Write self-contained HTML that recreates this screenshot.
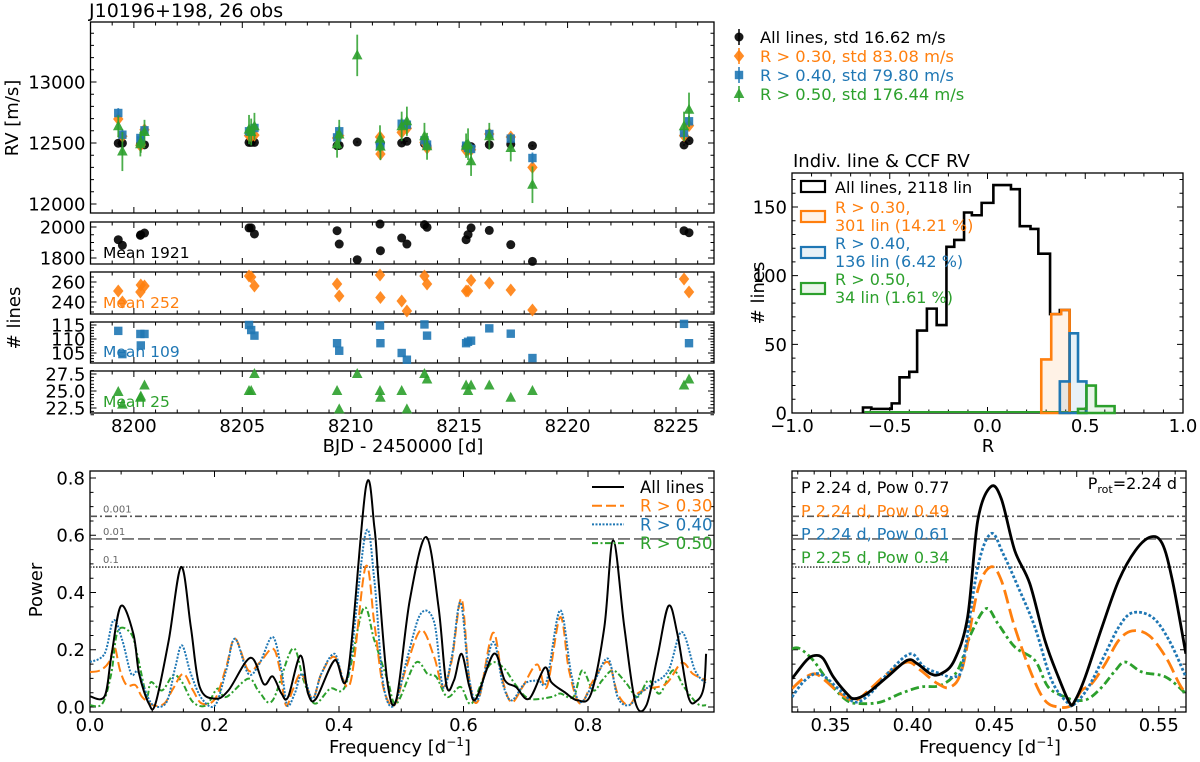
<!DOCTYPE html>
<html><head><meta charset="utf-8"><style>
html,body{margin:0;padding:0;background:#fff;}
svg{display:block;font-family:"DejaVu Sans","Liberation Sans",sans-serif;}
</style></head><body>
<svg id="fig" width="1200" height="762" viewBox="0 0 1200 762" xmlns="http://www.w3.org/2000/svg">
<defs>
<clipPath id="clipRV"><rect x="90.5" y="22" width="623.5" height="191"/></clipPath>
<clipPath id="clipPL"><rect x="90" y="471" width="624" height="241"/></clipPath>
<clipPath id="clipPR"><rect x="792" y="471" width="394" height="241"/></clipPath>
</defs>
</svg>
<script>
// ---------------- DATA ----------------
const obsTime=[8199.28,8199.47,8200.30,8200.32,8200.49,8205.31,8205.41,8205.56,8209.37,8209.47,8210.30,8211.35,8211.37,8212.35,8212.59,8213.40,8213.52,8215.32,8215.41,8215.55,8216.39,8217.38,8218.38,8225.37,8225.60];
const rvAll=[12498,12498,12490,12492,12485,12505,12505,12505,12478,12480,12508,12500,12500,12500,12514,12495,12473,12470,12470,12470,12486,12490,12478,12484,12519];
const rv30=[12697,12555,12478,12490,12609,12560,12555,12565,12541,12560,null,12549,12410,12587,12620,12505,12459,12440,12445,12445,12574,12549,12300,12560,12642];
const rv40=[12746,12568,12541,12520,12604,12596,12600,12623,12546,12596,null,12478,12478,12658,12650,12522,12487,12478,12460,12451,12574,12536,12377,12582,12678];
const rv50=[12637,12430,12490,12510,12590,12610,12590,12637,12490,12570,13218,12535,12470,12637,12678,12555,12473,12478,12490,12350,12555,12459,12158,12637,12773];
const errAll=[6,6,6,6,6,6,6,6,6,6,6,6,6,6,6,6,6,6,6,6,6,6,6,6,6];
const err30=[20,22,25,22,22,20,22,20,22,22,0,20,22,22,22,25,25,22,22,25,20,22,22,25,22];
const err40=[40,45,45,40,45,40,45,40,45,45,0,45,40,45,45,45,45,45,45,45,40,45,45,45,45];
const err50=[90,160,100,90,100,120,110,110,110,120,170,110,110,120,120,110,110,100,130,120,110,110,150,120,140];
const nAll=[1918,1882,1946,1950,1961,1994,1994,1955,1976,1890,1789,2019,1847,1929,1890,2015,1998,1918,1951,1994,1978,1886,1778,1976,1963];
const n30=[251,240,250,257,256,266,265,256,258,246,null,267,244.5,241,231,266,258,251,251,261.6,259,252,232,263,250];
const n40=[112.9,104.6,111.8,107.7,111.8,115,113.2,111.2,108.5,105.8,null,114.8,108.5,105,102.6,115.2,111.2,108.5,109,109.4,113.8,111.9,103.2,115.4,108.5];
const n50=[24.85,23,24,24.2,25.8,25,25,27.5,25,22.3,27.5,25,24,25,22.3,27.5,26.7,25.8,25,25.8,25.8,24,25,25.8,26.7];
const meanLabels=["Mean 1921","Mean 252","Mean 109","Mean 25"];
const rvLegend=["All lines, std 16.62 m/s","R > 0.30, std 83.08 m/s","R > 0.40, std 79.80 m/s","R > 0.50, std 176.44 m/s"];

// histogram
const histAllEdges=[-0.637,-0.594,-0.54,-0.49,-0.45,-0.40,-0.36,-0.31,-0.26,-0.21,-0.17,-0.12,-0.08,-0.03,0.03,0.075,0.12,0.165,0.22,0.26,0.32,0.37,0.42];
const histAllCounts=[4,3,3,7,26,30,60,76,64,121,126,146,144,153,166,166,163,136,134,116,72,75];
const hist30Edges=[0.275,0.326,0.377,0.42];
const hist30Counts=[39,72,75];
const hist40Edges=[0.37,0.42,0.463,0.506];
const hist40Counts=[23,58,23];
const hist50Edges=[0.463,0.506,0.554,0.65];
const hist50Counts=[3,20,5];
const histLegend=[["All lines, 2118 lin"],["R > 0.30,","301 lin (14.21 %)"],["R > 0.40,","136 lin (6.42 %)"],["R > 0.50,","34 lin (1.61 %)"]];

// periodogram (full)
const fAll=[0,.0234,.0341,.0497,.0696,.0789,.0945,.1052,.1265,.1464,.162,.1762,.2011,.2224,.2579,.2792,.2934,.3076,.3183,.3382,.3503,.3631,.3929,.4142,.4433,.4568,.4639,.4782,.4924,.5137,.54,.5599,.5726,.5847,.5968,.6096,.6202,.6487,.6664,.6842,.7055,.7304,.741,.7623,.7837,.805,.8263,.8405,.8583,.876,.8938,.9115,.9293,.9435,.9613,.9755,.9861,.9897];
const pAll=[.037,.037,.175,.353,.256,.116,.012,.012,.233,.489,.279,.07,.029,.058,.172,.08,.107,.047,.035,.18,.047,.029,.163,.116,.769,.629,.431,.08,.029,.373,.594,.349,.076,.093,.186,.07,.029,.186,.093,.07,.029,.137,.087,.052,.023,.047,.28,.582,.28,.017,.006,.175,.353,.256,.035,.023,.07,.186];
const f30=[0,.0163,.0306,.0391,.0483,.0590,.0732,.0838,.1016,.1193,.1335,.1499,.1655,.1797,.2011,.2188,.2330,.2543,.2721,.2934,.3041,.3147,.3254,.3396,.3574,.3716,.3929,.4178,.4426,.4568,.4710,.4888,.5066,.5314,.5528,.5670,.5812,.5968,.6096,.6238,.6472,.6629,.6771,.6949,.7183,.7339,.7553,.7695,.7872,.8085,.8320,.8476,.8654,.8796,.8973,.9258,.9506,.9684,.9897];
const p30=[.122,.128,.157,.212,.128,.076,.076,.035,.006,.012,.064,.116,.058,.012,.029,.14,.239,.128,.154,.204,.14,.006,.058,.116,.029,.116,.175,.082,.489,.291,.07,.006,.128,.268,.175,.07,.163,.378,.093,.023,.259,.093,.017,.07,.149,.07,.314,.128,.012,.093,.157,.047,.006,.047,.064,.082,.154,.116,.093];
const f40=[0,.0234,.0377,.0519,.0661,.0767,.0874,.1016,.1229,.1371,.1478,.1620,.1797,.2011,.2188,.2330,.2543,.2721,.2934,.3076,.3168,.3289,.3410,.3574,.3716,.3929,.4142,.4426,.4568,.4710,.4888,.5101,.5314,.5528,.5670,.5812,.5954,.6096,.6238,.6472,.6629,.6771,.6984,.7197,.7339,.7553,.7730,.7872,.8085,.8320,.8476,.8654,.8832,.9045,.9293,.9506,.9719,.9897];
const p40=[.157,.186,.303,.233,.116,.125,.064,.006,.017,.14,.215,.116,.029,.006,.128,.239,.116,.151,.245,.128,.006,.047,.116,.029,.116,.186,.105,.606,.443,.082,.006,.175,.326,.297,.07,.175,.365,.093,.029,.227,.082,.023,.082,.093,.093,.338,.116,.017,.082,.169,.035,.006,.047,.082,.128,.262,.128,.082];
const f50=[0,.0199,.0341,.0448,.0661,.0767,.0909,.0980,.1158,.1336,.1478,.1655,.1868,.2046,.2188,.2544,.2721,.2934,.3254,.3432,.3609,.3858,.4107,.4391,.4568,.4782,.4924,.5229,.5421,.5563,.5741,.5954,.6131,.6416,.6629,.6842,.7055,.7410,.7552,.7766,.7908,.8085,.8227,.8405,.8618,.8796,.8973,.9151,.9364,.9542,.9755,.9897];
const p50=[.006,.012,.116,.266,.256,.175,.041,.087,.058,.111,.087,.017,.006,.064,.035,.099,.052,.023,.204,.093,.012,.064,.076,.344,.233,.093,.012,.154,.116,.105,.035,.07,.012,.146,.14,.076,.029,.035,.047,.035,.128,.058,.093,.128,.082,.035,.093,.047,.128,.07,.012,.006];
const fapLevels=[0.666,0.587,0.489];
const fapLabels=["0.001","0.01","0.1"];
const periodLegend=["All lines","R > 0.30","R > 0.40","R > 0.50"];

// periodogram zoom
const zfAll=[.3265,.3353,.3404,.3455,.3517,.3599,.3644,.3722,.3845,.3967,.4029,.4110,.4172,.4254,.4335,.4397,.4475,.4540,.4622,.4714,.4806,.4888,.4959,.4990,.5052,.5154,.5256,.5358,.5450,.5521,.5583,.5665];
const zpAll=[.099,.163,.180,.169,.105,.047,.029,.047,.105,.163,.151,.116,.116,.163,.314,.652,.769,.728,.547,.431,.233,.105,.012,.023,.105,.279,.442,.547,.594,.571,.442,.186];
const zf30=[.3265,.3333,.3404,.3466,.3558,.3650,.3742,.3845,.3967,.4049,.4151,.4233,.4305,.4397,.4475,.4540,.4622,.4724,.4806,.4888,.4969,.5030,.5092,.5174,.5256,.5338,.5440,.5542,.5624,.5665];
const zp30=[.064,.099,.116,.093,.047,.023,.064,.116,.157,.128,.082,.07,.14,.408,.489,.443,.279,.116,.023,0,.006,.058,.082,.151,.233,.266,.250,.175,.082,.047];
const zf40=[.3265,.3333,.3404,.3466,.3558,.3650,.3742,.3865,.3988,.4070,.4172,.4254,.4305,.4397,.4479,.4551,.4643,.4745,.4847,.4949,.4990,.5072,.5174,.5256,.5338,.5460,.5563,.5665];
const zp40=[.035,.087,.116,.105,.058,.017,.047,.128,.186,.140,.116,.105,.151,.489,.606,.536,.419,.279,.093,.012,.012,.070,.186,.279,.329,.314,.233,.105];
const zf50=[.3265,.3312,.3394,.3496,.3599,.3681,.3803,.3926,.4049,.4172,.4274,.4356,.4448,.4520,.4622,.4745,.4826,.4929,.5001,.5072,.5154,.5236,.5297,.5399,.5542,.5665];
const zp50=[.204,.204,.163,.082,.023,.012,.017,.047,.07,.076,.128,.256,.344,.291,.210,.163,.070,.035,.023,.029,.070,.128,.157,.122,.105,.047];
const zoomTexts=["P 2.24 d, Pow 0.77","P 2.24 d, Pow 0.49","P 2.24 d, Pow 0.61","P 2.25 d, Pow 0.34"];

// ---------------- HELPERS ----------------
const NS='http://www.w3.org/2000/svg';
const svg=document.getElementById('fig');
const C={k:'#000000',o:'#ff7f0e',b:'#1f77b4',g:'#2ca02c'};
const TF=18;
function mk(tag,parent){const e=document.createElementNS(NS,tag);(parent||svg).appendChild(e);return e;}
function att(e,o){for(const k in o)e.setAttribute(k,o[k]);return e;}
function grp(name,parent){const g=mk('g',parent);


return g;}
function txt(parent,s,x,y,size,fill,anchor,name){const t=mk('text',parent);att(t,{x:x,y:y,'font-size':size,fill:fill||'#000','text-anchor':anchor||'start'});t.textContent=s;


return t;}
function lin(a,b){return v=>a[1]+(v-a[0])*(b[1]-a[1])/(b[0]-a[0]);}
function ticksAlong(lo,hi,step){const r=[];const i0=Math.ceil(lo/step-1e-6),i1=Math.floor(hi/step+1e-6);for(let i=i0;i<=i1;i++)r.push(+(i*step).toFixed(6));return r;}
function axes(name,box,sx,sy,xd,yd,xMaj,xMin,yMaj,yMin,xFmt,yFmt,fs){
  const g=grp(name);
  const frame=att(mk('rect',g),{x:box.x0,y:box.y0,width:box.x1-box.x0,height:box.y1-box.y0,fill:'none',stroke:'#000','stroke-width':1.3});
  
  
  let d='';
  ticksAlong(xd[0],xd[1],xMin).forEach(v=>{const x=sx(v);const L=(Math.abs(v/xMaj-Math.round(v/xMaj))<1e-6)?6:3.5;d+=`M${x},${box.y1}v${-L}M${x},${box.y0}v${L}`;});
  ticksAlong(yd[0],yd[1],yMin).forEach(v=>{const y=sy(v);const L=(Math.abs(v/yMaj-Math.round(v/yMaj))<1e-6)?6:3.5;d+=`M${box.x0},${y}h${L}M${box.x1},${y}h${-L}`;});
  att(mk('path',g),{d:d,stroke:'#000','stroke-width':1,fill:'none'});
  if(xFmt)ticksAlong(xd[0],xd[1],xMaj).forEach(v=>txt(g,xFmt(v),sx(v),box.y1+fs+1,fs,'#000','middle',name+'-xtick'));
  if(yFmt)ticksAlong(yd[0],yd[1],yMaj).forEach(v=>txt(g,yFmt(v),box.x0-5,sy(v)+fs*0.36,fs,'#000','end',name+'-ytick'));
  return g;
}
function smooth(pts){let d=`M${pts[0][0]},${pts[0][1]}`;for(let i=0;i<pts.length-1;i++){const p0=pts[Math.max(0,i-1)],p1=pts[i],p2=pts[i+1],p3=pts[Math.min(pts.length-1,i+2)];
const c1=[p1[0]+(p2[0]-p0[0])/6,p1[1]+(p2[1]-p0[1])/6],c2=[p2[0]-(p3[0]-p1[0])/6,p2[1]-(p3[1]-p1[1])/6];d+=`C${c1[0]},${c1[1]} ${c2[0]},${c2[1]} ${p2[0]},${p2[1]}`;}return d;}
function marker(g,type,x,y,col){let e;
 if(type==='c'){e=att(mk('circle',g),{cx:x,cy:y,r:4.5});}
 else if(type==='d'){e=att(mk('path',g),{d:`M${x},${y-6.5}L${x+5.2},${y}L${x},${y+6.5}L${x-5.2},${y}Z`});}
 else if(type==='s'){e=att(mk('rect',g),{x:x-4.2,y:y-4.2,width:8.4,height:8.4});}
 else {e=att(mk('path',g),{d:`M${x},${y-6}L${x+5.3},${y+4}L${x-5.3},${y+4}Z`});}
 att(e,{fill:col,'fill-opacity':0.9});return e;}

// ---------------- TOP LEFT: RV time series ----------------
txt(svg,"J10196+198, 26 obs",89,17,19,'#000','start','rv-title');
const xT=lin([8198,90.5],[8225,676]);
const xDom=[8198,8226.7];
const boxRV={x0:90.5,x1:714,y0:22,y1:213};
const yRV=lin([12500,143],[13000,82]);
axes('rv-axes',boxRV,xT,yRV,xDom,[11926,13492],5,1,500,100,null,v=>String(v),TF);
txt(svg,"RV [m/s]",0,0,18,'#000','middle','rv-y-title').setAttribute('transform','translate(18,118) rotate(-90)');
const rvSeries=[[rvAll,errAll,C.k,'c','all'],[rv30,err30,C.o,'d','r030'],[rv40,err40,C.b,'s','r040'],[rv50,err50,C.g,'t','r050']];
rvSeries.forEach(s=>{const g=grp('rv-series-'+s[4]);g.setAttribute('clip-path','url(#clipRV)');
 obsTime.forEach((t,i)=>{const v=s[0][i];if(v===null)return;const x=xT(t);
  if(s[1][i]>0)att(mk('line',g),{x1:x,x2:x,y1:yRV(v-s[1][i]),y2:yRV(v+s[1][i]),stroke:s[2],'stroke-width':1.8,'stroke-opacity':0.85});
  const m=marker(g,s[3],x,yRV(v),s[2]);
  
  
 });});
// legend
const lg=grp('rv-legend');
[[C.k,'c'],[C.o,'d'],[C.b,'s'],[C.g,'t']].forEach((s,i)=>{const y=37+i*19;
 att(mk('line',lg),{x1:739,x2:739,y1:y-8,y2:y+8,stroke:s[0],'stroke-width':1.5});
 marker(lg,s[1],739,y,s[0]);
 txt(lg,rvLegend[i],760,y+6,16.3,s[0],'start','rv-legend-entry');});

// ---------------- line count sub-panels ----------------
const subs=[
 {n:nAll,col:C.k,t:'c',box:{x0:90.5,x1:714,y0:222,y1:264},y:lin([2000,227],[1800,258]),dom:[1761,2032],maj:200,min:50,fmt:v=>String(v),name:'all'},
 {n:n30,col:C.o,t:'d',box:{x0:90.5,x1:714,y0:272,y1:314},y:lin([260,282],[240,302]),dom:[228,270],maj:20,min:5,fmt:v=>String(v),name:'r030'},
 {n:n40,col:C.b,t:'s',box:{x0:90.5,x1:714,y0:322,y1:363},y:lin([115,325],[105,353]),dom:[101.3,116],maj:5,min:1,fmt:v=>String(v),name:'r040'},
 {n:n50,col:C.g,t:'t',box:{x0:90.5,x1:714,y0:371,y1:413},y:lin([27.5,374],[22.5,408]),dom:[21.5,28],maj:2.5,min:0.5,fmt:v=>v.toFixed(1),name:'r050'}];
subs.forEach((s,k)=>{
 axes('nlines-axes-'+s.name,s.box,xT,s.y,xDom,s.dom,5,1,s.maj,s.min,k===3?(v=>String(v)):null,s.fmt,TF);
 const g=grp('nlines-series-'+s.name);
 s.n.forEach((v,i)=>{if(v===null)return;const m=marker(g,s.t,xT(obsTime[i]),s.y(v),s.col);
  
  });
 txt(svg,meanLabels[k],103,s.box.y1-6,15.5,s.col,'start','mean-label-'+s.name);
});
txt(svg,"# lines",0,0,18,'#000','middle','nlines-y-title').setAttribute('transform','translate(20,318) rotate(-90)');
txt(svg,"BJD - 2450000 [d]",403,452,18,'#000','middle','time-x-title');

// ---------------- HISTOGRAM ----------------
txt(svg,"Indiv. line & CCF RV",793,167,18,'#000','start','hist-title');
const boxH={x0:792,x1:1183,y0:173,y1:413};
const xH=lin([-1,792],[1,1183]);
const yH=lin([0,413],[150,207]);
axes('hist-axes',boxH,xH,yH,[-1,1],[0,174],0.5,0.1,50,10,v=>(v<0?'\u2212':'')+Math.abs(v).toFixed(1),v=>String(v),TF);
function stepPath(edges,counts){let d=`M${xH(edges[0])},${yH(0)}`;counts.forEach((c,i)=>{d+=`L${xH(edges[i])},${yH(c)}L${xH(edges[i+1])},${yH(c)}`;});d+=`L${xH(edges[edges.length-1])},${yH(0)}`;return d;}
const hg=grp('hist-bars');
att(mk('line',hg),{x1:xH(-0.63),x2:xH(0.463),y1:yH(0)-1,y2:yH(0)-1,stroke:C.g,'stroke-width':2});
const hAll=att(mk('path',hg),{d:stepPath(histAllEdges,histAllCounts),fill:'none',stroke:'#000','stroke-width':2.6});


[[hist30Edges,hist30Counts,C.o,'r030'],[hist40Edges,hist40Counts,C.b,'r040'],[hist50Edges,hist50Counts,C.g,'r050']].forEach(h=>{
 const p=att(mk('path',hg),{d:stepPath(h[0],h[1])+'Z',fill:h[2],'fill-opacity':0.1,stroke:h[2],'stroke-width':2.6});
 
 });
const hl=grp('hist-legend');
[[C.k,'none',181],[C.o,C.o,211],[C.b,C.b,247],[C.g,C.g,283]].forEach((s,i)=>{
 att(mk('rect',hl),{x:801,y:s[2],width:24,height:11,fill:s[1]==='none'?'none':s[1],'fill-opacity':0.1,stroke:s[0],'stroke-width':2.2});
 const lines=histLegend[i];
 if(lines.length===1)txt(hl,lines[0],835,193,16,s[0],'start','hist-legend-entry');
 else{txt(hl,lines[0],835,s[2]+2,16,s[0],'start','hist-legend-entry');txt(hl,lines[1],835,s[2]+20,16,s[0],'start','hist-legend-entry');}
});
txt(svg,"# lines",0,0,18,'#000','middle','hist-y-title').setAttribute('transform','translate(764,293) rotate(-90)');
txt(svg,"R",988,452,18,'#000','middle','hist-x-title');

// ---------------- PERIODOGRAM FULL ----------------
const boxP={x0:90,x1:714,y0:471,y1:712};
const xP=lin([0,90],[0.2,214.5]);
const yP=lin([0,707],[0.8,478]);
axes('periodogram-axes',boxP,xP,yP,[0,0.99],[-0.017,0.82],0.2,0.05,0.2,0.05,v=>v.toFixed(1),v=>v.toFixed(1),TF);
const fapStyle=[['7,3,2,3','#555'],['12,4','#666'],['1.5,1.5','#444']];
function fapLines(box,ys,name,labels){const g=grp(name);fapLevels.forEach((v,i)=>{att(mk('line',g),{x1:box.x0,x2:box.x1,y1:ys(v),y2:ys(v),stroke:fapStyle[i][1],'stroke-width':1.6,'stroke-dasharray':fapStyle[i][0]});
 if(labels)txt(g,fapLabels[i],103,ys(v)-4,10,'#666','start','fap-label');});}
fapLines(boxP,yP,'fap-lines-full',true);
const serStyle=[[C.k,'none',2],[C.o,'10,4',2],[C.b,'2,1.5',2],[C.g,'6,2.5,2,2.5',2]];
function curves(fs,ps,xs,ys,clip,name,wscale){const g=grp(name);g.setAttribute('clip-path',clip);
 const order=[3,1,2,0];
 order.forEach(k=>{const pts=fs[k].map((f,i)=>[xs(f),ys(ps[k][i])]);
  const p=att(mk('path',g),{d:smooth(pts),fill:'none',stroke:serStyle[k][0],'stroke-width':serStyle[k][2]*wscale,'stroke-dasharray':serStyle[k][1]==='none'?'none':serStyle[k][1].split(',').map(v=>v*wscale).join(',')});
  
  });}
curves([fAll,f30,f40,f50],[pAll,p30,p40,p50],xP,yP,'url(#clipPL)','periodogram-full',1);
const pl=grp('periodogram-legend');
serStyle.forEach((s,i)=>{const y=487+i*18.7;
 att(mk('line',pl),{x1:592,x2:624,y1:y,y2:y,stroke:s[0],'stroke-width':2,'stroke-dasharray':s[1]});
 txt(pl,periodLegend[i],640,y+6,16.5,s[0],'start','periodogram-legend-entry');});
txt(svg,"Power",0,0,18,'#000','middle','power-y-title').setAttribute('transform','translate(42,590) rotate(-90)');
const fx1=txt(svg,"Frequency [d",400,753,18,'#000','middle','freq-x-title-full');
fx1.innerHTML='Frequency [d<tspan dy="-7" font-size="12">\u22121</tspan><tspan dy="7">]</tspan>';

// ---------------- PERIODOGRAM ZOOM ----------------
const boxZ={x0:792,x1:1186,y0:471,y1:712};
const xZ=lin([0.35,792+(152-37)/2.98],[0.55,792+(1130-37)/2.98]);
axes('periodogram-zoom-axes',boxZ,xZ,yP,[0.3265,0.5664],[-0.017,0.82],0.05,0.01,0.2,0.05,v=>v.toFixed(2),null,TF);
fapLines(boxZ,yP,'fap-lines-zoom',false);
curves([zfAll,zf30,zf40,zf50],[zpAll,zp30,zp40,zp50],xZ,yP,'url(#clipPR)','periodogram-zoom',1.4);
const zc=[C.k,C.o,C.b,C.g];
zoomTexts.forEach((s,i)=>txt(svg,s,801,493+i*23.3,16,zc[i],'start','peak-annotation'));
const pr=txt(svg,"",1177,489,16,'#000','end','prot-annotation');
pr.innerHTML='P<tspan dy="4" font-size="11">rot</tspan><tspan dy="-4">=2.24 d</tspan>';
const fx2=txt(svg,"",990,753,18,'#000','middle','freq-x-title-zoom');
fx2.innerHTML='Frequency [d<tspan dy="-7" font-size="12">\u22121</tspan><tspan dy="7">]</tspan>';
</script>
</body></html>
